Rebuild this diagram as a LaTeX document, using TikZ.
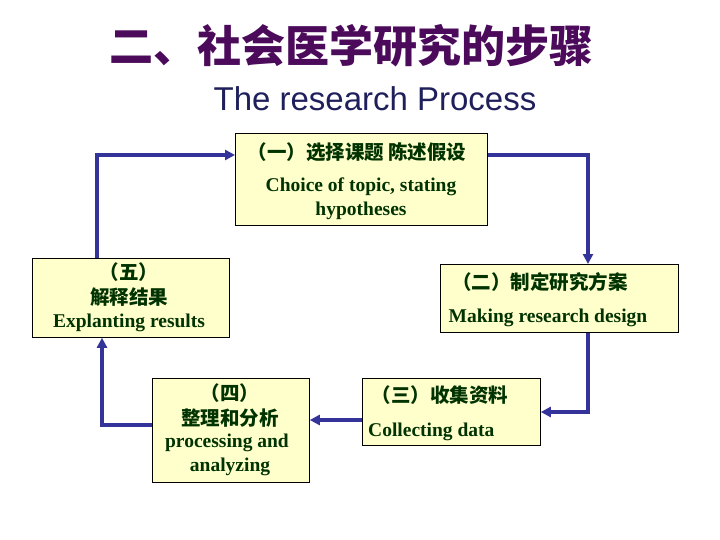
\documentclass[tikz,border=0pt]{standalone}
\usepackage{fontspec}
\setmainfont{Liberation Serif}
\newfontfamily\cjk{Noto Sans CJK SC}
\newfontfamily\sans{Liberation Sans}
\usetikzlibrary{arrows.meta}
\definecolor{tgreen}{HTML}{003300}
\definecolor{abl}{HTML}{333399}
\definecolor{byel}{HTML}{FFFFCC}
\definecolor{tpur}{HTML}{4B0A5A}
\begin{document}
\begin{tikzpicture}[x=1pt,y=-1pt,
 box/.style={draw=black,fill=byel,line width=0.8pt},
 t/.style={text=tgreen,font=\bfseries\fontsize{19.5}{21}\selectfont,inner sep=0pt},
 c/.style={text=tgreen,font=\cjk\bfseries\fontsize{19.5}{21}\selectfont,inner sep=0pt},
 ar/.style={draw=abl,line width=3.5pt,-{Triangle[length=10pt,width=10pt]}}]
\useasboundingbox (0,0) rectangle (720,540);
\node[text=tpur,font=\cjk\bfseries\fontsize{44}{46}\selectfont] (title) at (351,46) {二、社会医学研究的步骤};
\node[text=abl!60!black,font=\sans\fontsize{33}{35}\selectfont] (sub) at (375,99) {The research Process};
% boxes
\node[box,minimum width=252,minimum height=92,anchor=north west] (b1) at (235,133) {};
\node[box,minimum width=238,minimum height=68,anchor=north west] (b2) at (440,264) {};
\node[box,minimum width=178,minimum height=67,anchor=north west] (b3) at (362,378) {};
\node[box,minimum width=157,minimum height=104,anchor=north west] (b4) at (152,378) {};
\node[box,minimum width=197,minimum height=79,anchor=north west] (b5) at (32,258) {};
% texts
\node[c] (t1a) at (357,152) {（一）选择课题 陈述假设};
\node[t] (t1b) at (361,187) {Choice of topic, stating};
\node[t] (t1c) at (361,211) {hypotheses};
\node[c] (t2a) at (540,282) {（二）制定研究方案};
\node[t] (t2b) at (548,318) {Making research design};
\node[c] (t3a) at (440,395) {（三）收集资料};
\node[t,anchor=west] (t3b) at (368,432) {Collecting data};
\node[c] (t4a) at (230,393) {（四）};
\node[c] (t4b) at (230,418) {整理和分析};
\node[t] (t4c) at (227,443) {processing and};
\node[t] (t4d) at (230,467) {analyzing};
\node[c] (t5a) at (129,272) {（五）};
\node[c] (t5b) at (129,297) {解释结果};
\node[t] (t5c) at (129,323) {Explanting results};
% arrows
\coordinate (k1) at (588,155);
\coordinate (k2) at (588,412);
\coordinate (k3) at (102,425);
\coordinate (k4) at (97,155);
\draw[ar] (b1.east |- k1) -- (k1) -- (b2.north -| k1);
\draw[ar] (b2.south -| k2) -- (k2) -- (b3.east |- k2);
\draw[ar] (b3.west |- 0,420) -- (b4.east |- 0,420);
\draw[ar] (b4.west |- k3) -- (k3) -- (b5.south -| k3);
\draw[ar] (b5.north -| k4) -- (k4) -- (b1.west |- k4);
\end{tikzpicture}
\end{document}
